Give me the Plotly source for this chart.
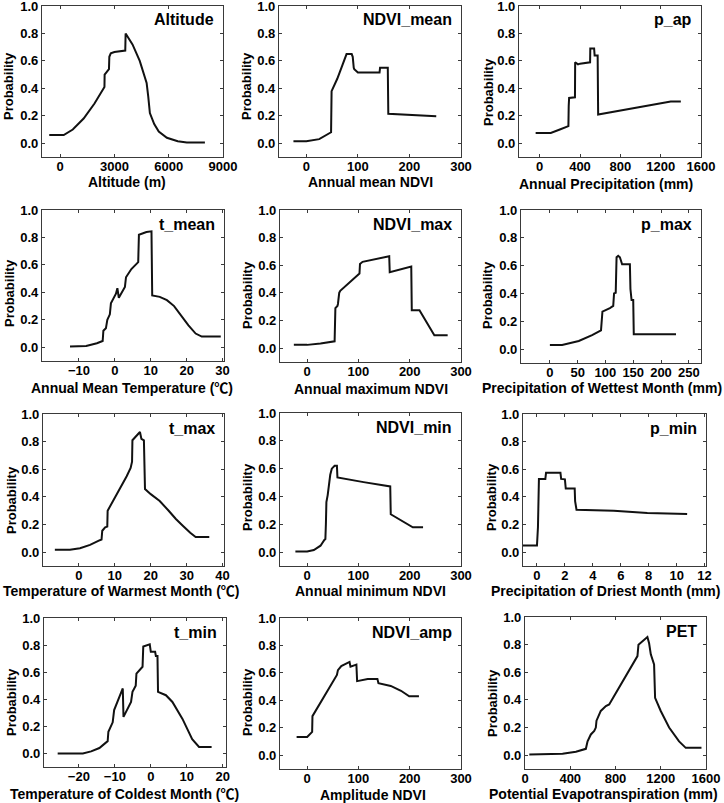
import plotly.graph_objects as go

W, H = 724, 803

# ---------------- data ----------------
alt_x = [-600, 200, 700, 1300, 1900, 2450, 2460, 2700, 2720, 2800, 3000, 3300, 3600, 3620, 4000, 4400, 4750, 4780, 4870, 4960, 5200, 5450, 5900, 6500, 7000, 8000]
alt_y = [0.06, 0.06, 0.10, 0.18, 0.29, 0.41, 0.50, 0.54, 0.63, 0.655, 0.665, 0.67, 0.675, 0.80, 0.72, 0.60, 0.46, 0.44, 0.34, 0.22, 0.14, 0.085, 0.04, 0.015, 0.005, 0.005]

ndvi_mean_x = [-25, 0, 25, 40, 48, 49, 60, 70, 78, 88, 90, 92, 93, 100, 142, 143, 158, 159, 200, 252]
ndvi_mean_y = [0.015, 0.015, 0.03, 0.06, 0.08, 0.38, 0.47, 0.57, 0.65, 0.65, 0.63, 0.55, 0.54, 0.515, 0.515, 0.55, 0.55, 0.215, 0.205, 0.197]

p_ap_x = [-40, 110, 200, 285, 288, 292, 350, 352, 380, 400, 500, 502, 540, 545, 575, 580, 1300, 1400]
p_ap_y = [0.075, 0.075, 0.1, 0.125, 0.27, 0.33, 0.335, 0.59, 0.575, 0.58, 0.59, 0.69, 0.69, 0.64, 0.64, 0.21, 0.305, 0.305]

t_mean_x = [-12.5, -8, -5, -3.4, -3.2, -2.5, -2.1, -1.4, -1.1, 0.3, 0.7, 1.1, 2.8, 3.1, 4.6, 6.5, 6.7, 8.8, 10.2, 10.4, 12.5, 14.5, 16.5, 18.5, 20.5, 22.5, 24.2, 29.5]
t_mean_y = [0.005, 0.01, 0.029, 0.046, 0.12, 0.138, 0.2, 0.24, 0.32, 0.39, 0.43, 0.36, 0.44, 0.51, 0.57, 0.62, 0.82, 0.84, 0.845, 0.377, 0.367, 0.343, 0.30, 0.23, 0.16, 0.10, 0.078, 0.078]

ndvi_max_x = [-26, 0, 26, 52, 53.5, 55, 59, 60, 62.5, 64.5, 102, 103, 108, 160, 161, 203, 204, 219, 232, 248, 274]
ndvi_max_y = [0.024, 0.024, 0.034, 0.048, 0.05, 0.29, 0.305, 0.32, 0.40, 0.415, 0.54, 0.61, 0.625, 0.665, 0.55, 0.59, 0.275, 0.275, 0.19, 0.094, 0.094]

p_max_x = [0, 22, 52, 76, 92, 94.6, 108, 114, 115.5, 118.5, 120, 123, 126, 128, 130, 144, 145, 147, 150, 151, 227]
p_max_y = [0.029, 0.029, 0.058, 0.1, 0.135, 0.27, 0.295, 0.31, 0.4, 0.405, 0.66, 0.67, 0.66, 0.626, 0.61, 0.61, 0.432, 0.353, 0.353, 0.106, 0.106]

t_max_x = [-6.7, -2.5, 0.3, 3.1, 5.4, 6.3, 6.5, 7.3, 7.9, 8.0, 13.3, 14.4, 14.8, 14.9, 17.0, 17.4, 18.1, 18.4, 20, 22.5, 25, 27, 29, 31, 32.5, 36.3]
t_max_y = [0.017, 0.017, 0.029, 0.053, 0.082, 0.092, 0.155, 0.18, 0.185, 0.30, 0.55, 0.61, 0.655, 0.81, 0.87, 0.82, 0.81, 0.457, 0.42, 0.37, 0.30, 0.24, 0.19, 0.14, 0.11, 0.11]

ndvi_min_x = [-23, 0, 13, 26, 33.5, 35.5, 36.5, 37.5, 40, 45, 48, 53.5, 58, 59, 110, 162, 163, 206, 226]
ndvi_min_y = [0.005, 0.005, 0.015, 0.046, 0.087, 0.094, 0.2, 0.36, 0.41, 0.556, 0.6, 0.62, 0.62, 0.537, 0.503, 0.472, 0.272, 0.178, 0.178]

p_min_x = [-1, 0, 0.07, 0.14, 0.6, 0.65, 1.68, 1.73, 2.0, 2.06, 2.7, 2.73, 2.83, 5.5, 7.9, 10.75]
p_min_y = [0.048, 0.048, 0.18, 0.53, 0.53, 0.575, 0.575, 0.53, 0.527, 0.46, 0.46, 0.37, 0.307, 0.30, 0.283, 0.276]

t_min_x = [-25.9, -18.9, -16.6, -14.3, -12.5, -12, -11.8, -10.6, -10.2, -7.8, -7.6, -5.5, -5.1, -4.2, -4, -2.3, -2.1, -0.3, 0, 1.2, 1.4, 1.85, 2.0, 4.2, 6, 8.8, 11.5, 13.4, 16.9]
t_min_y = [0.0, 0.0, 0.015, 0.04, 0.08, 0.09, 0.16, 0.23, 0.32, 0.48, 0.27, 0.38, 0.455, 0.5, 0.59, 0.64, 0.79, 0.805, 0.75, 0.75, 0.72, 0.72, 0.455, 0.43, 0.38, 0.255, 0.105, 0.048, 0.048]

ndvi_amp_x = [-20.6, 0, 9.7, 10.3, 58, 60, 66.5, 82.6, 84.5, 92, 96, 97.4, 118, 137, 139, 163, 183, 199, 218]
ndvi_amp_y = [0.133, 0.133, 0.17, 0.285, 0.585, 0.62, 0.65, 0.68, 0.645, 0.655, 0.66, 0.54, 0.556, 0.556, 0.525, 0.505, 0.47, 0.43, 0.43]

pet_x = [38, 332, 450, 538, 553, 582, 612, 626, 632, 650, 670, 715, 744, 994, 1003, 1082, 1097, 1112, 1132, 1141, 1150, 1200, 1274, 1362, 1421, 1560]
pet_y = [0.005, 0.01, 0.025, 0.046, 0.1, 0.15, 0.175, 0.2, 0.25, 0.283, 0.32, 0.355, 0.367, 0.717, 0.8, 0.855, 0.81, 0.73, 0.68, 0.657, 0.415, 0.32, 0.2, 0.1, 0.053, 0.053]

panel_names = ["Altitude", "NDVI_mean", "p_ap", "t_mean", "NDVI_max", "p_max",
               "t_max", "NDVI_min", "p_min", "t_min", "NDVI_amp", "PET"]
x_titles = ["Altitude (m)", "Annual mean NDVI", "Annual Precipitation (mm)",
            "Annual Mean Temperature (℃)", "Annual maximum NDVI", "Precipitation of Wettest Month (mm)",
            "Temperature of Warmest Month (℃)", "Annual minimum NDVI", "Precipitation of Driest Month (mm)",
            "Temperature of Coldest Month (℃)", "Amplitude NDVI", "Potential Evapotranspiration (mm)"]
y_title = "Probability"
x_ticks = [[0, 3000, 6000, 9000], [0, 100, 200, 300], [0, 400, 800, 1200, 1600],
           [-10, 0, 10, 20, 30], [0, 100, 200, 300], [0, 50, 100, 150, 200, 250],
           [0, 10, 20, 30, 40], [0, 100, 200, 300], [0, 2, 4, 6, 8, 10, 12],
           [-20, -10, 0, 10, 20], [0, 100, 200, 300], [0, 400, 800, 1200, 1600]]
x_ranges = [[-1000, 9000], [-53, 300], [-205, 1600],
            [-20.3, 30.4], [-53, 300], [-52, 272],
            [-10, 40.4], [-53, 300], [-1, 12.1],
            [-29.7, 20.9], [-53, 300], [0, 1600]]
y_ticks = [0.0, 0.2, 0.4, 0.6, 0.8, 1.0]
y_tick_text = ["0.0", "0.2", "0.4", "0.6", "0.8", "1.0"]
series = [(alt_x, alt_y), (ndvi_mean_x, ndvi_mean_y), (p_ap_x, p_ap_y),
          (t_mean_x, t_mean_y), (ndvi_max_x, ndvi_max_y), (p_max_x, p_max_y),
          (t_max_x, t_max_y), (ndvi_min_x, ndvi_min_y), (p_min_x, p_min_y),
          (t_min_x, t_min_y), (ndvi_amp_x, ndvi_amp_y), (pet_x, pet_y)]

# ---------------- layout (pixels) ----------------
# plot-area boxes: left, right, top, bottom
boxes = [(42, 223, 6, 157), (279, 461, 6, 157), (519, 701, 6, 157),
         (42, 224, 210, 361), (280, 461, 210, 362), (521, 701, 210, 363),
         (43, 224, 414, 566), (280, 461, 413, 566), (523, 706, 414, 566),
         (44, 226, 618, 767), (280, 461, 618, 769), (525, 706, 617, 769)]
# centres of x-axis titles and y-axis titles
xt_pos = [(127, 182), (370, 182), (606, 184),
          (132, 388), (371, 389), (602, 388),
          (121, 591), (370, 591), (605, 591),
          (124, 794), (373, 795), (603, 794)]
yt_pos = [(9, 86), (247, 86), (488, 92),
          (9, 293), (247, 295), (487, 295),
          (11, 500), (247, 497), (491, 497),
          (11, 702), (247, 702), (492, 703)]

FONT = "Liberation Sans, Arial, Noto Sans CJK SC, sans-serif"
AX = "#3a3a3a"

fig = go.Figure()
layout = dict(
    width=W, height=H, margin=dict(l=0, r=0, t=0, b=0),
    paper_bgcolor="white", plot_bgcolor="white", showlegend=False,
    font=dict(family=FONT, size=13, color="black", weight="bold"),
)
annotations = []
for i, (name, xt, (xs, ys)) in enumerate(zip(panel_names, x_titles, series)):
    n = i + 1
    xa = "x" if n == 1 else f"x{n}"
    ya = "y" if n == 1 else f"y{n}"
    fig.add_trace(go.Scatter(x=xs, y=ys, mode="lines", xaxis=xa, yaxis=ya,
                             line=dict(color="#111111", width=2)))
    l, r, t, b = boxes[i]
    common = dict(showline=True, linecolor=AX, linewidth=1.3, mirror="ticks",
                  ticks="inside", ticklen=3, tickwidth=1, tickcolor=AX,
                  showgrid=False, zeroline=False, automargin=False,
                  ticklabeloverflow="allow",
                  tickfont=dict(family=FONT, size=13, color="black", weight="bold"))
    layout[f"xaxis{'' if n == 1 else n}"] = dict(
        domain=[l / W, r / W], anchor=ya, range=x_ranges[i], tickvals=x_ticks[i],
        ticklabelstandoff=-3, **common)
    layout[f"yaxis{'' if n == 1 else n}"] = dict(
        domain=[1 - b / H, 1 - t / H], anchor=xa, range=[-0.1, 1.0],
        tickvals=y_ticks, ticktext=y_tick_text, **common)
    # panel label
    annotations.append(dict(text=name, xref="paper", yref="paper",
                            x=(r - 8) / W, y=1 - (t + 14) / H, borderpad=0,
                            xanchor="right", yanchor="middle", showarrow=False,
                            font=dict(family=FONT, size=16, color="black", weight="bold")))
    # x-axis title
    cx, cy = xt_pos[i]
    annotations.append(dict(text=xt, xref="paper", yref="paper", x=cx / W, y=1 - cy / H,
                            xanchor="center", yanchor="middle", showarrow=False, borderpad=0,
                            font=dict(family=FONT, size=14, color="black", weight="bold")))
    # y-axis title
    cx, cy = yt_pos[i]
    annotations.append(dict(text=y_title, xref="paper", yref="paper", x=cx / W, y=1 - cy / H,
                            xanchor="center", yanchor="middle", textangle=-90, showarrow=False,
                            borderpad=0,
                            font=dict(family=FONT, size=13, color="black", weight="bold")))
layout["annotations"] = annotations
fig.update_layout(**layout)
fig.write_html("out.html", config={"displayModeBar": False},
               post_script="document.body.style.margin='0';document.body.style.padding='0';"
                           "document.body.style.overflow='hidden';")
